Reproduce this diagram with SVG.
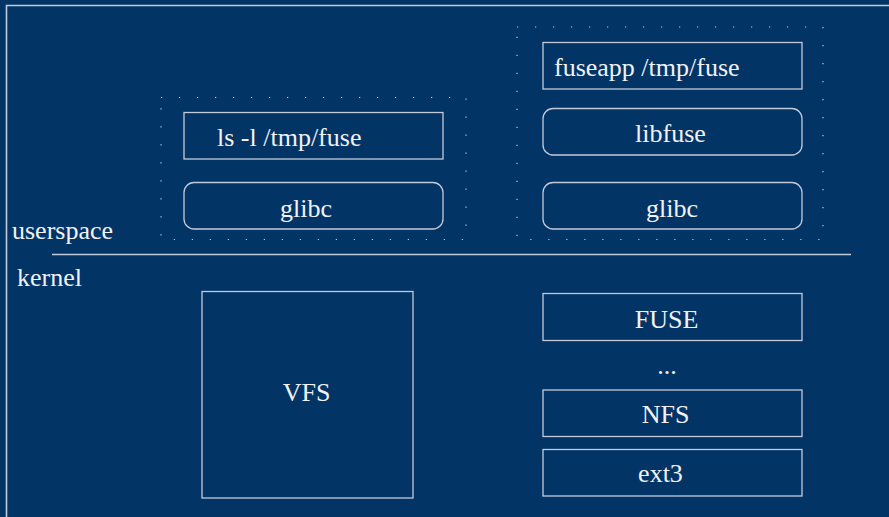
<svg xmlns="http://www.w3.org/2000/svg" width="889" height="517" viewBox="0 0 889 517">
<style>
.box{fill:none;stroke:#c3cbdb;stroke-width:1.3}
.dots{fill:none;stroke:#c3cbdb;stroke-width:1.2;stroke-dasharray:1.2 16.8}
.t{font-family:"Liberation Serif","Times New Roman",serif;font-size:26px;fill:#f2f2f2}
.c{text-anchor:middle}
</style>
<rect x="0" y="0" width="889" height="517" fill="#023466"/>
<path d="M6.5 517 V5.5 H889" fill="none" stroke="#c3cbdb" stroke-width="1.6"/>
<line x1="52" y1="254.5" x2="851" y2="254.5" stroke="#c3cbdb" stroke-width="1.4"/>
<g id="userspace-label"><text class="t" x="12" y="239">userspace</text></g>
<g id="kernel-label"><text class="t" x="17" y="286">kernel</text></g>
<g id="ls-process"><rect class="dots" x="161" y="97.5" width="305" height="142"/></g>
<g id="fuse-process"><rect class="dots" x="517" y="27" width="306" height="212.5"/></g>
<g id="ls"><rect class="box" x="184" y="112.5" width="259" height="46.5"/><text class="t" x="217" y="146">ls -l /tmp/fuse</text></g>
<g id="glibc-left"><rect class="box" x="184" y="182.5" width="259" height="46.5" rx="10"/><text class="t c" x="306" y="217">glibc</text></g>
<g id="fuseapp"><rect class="box" x="543" y="42.5" width="259" height="46.5"/><text class="t" x="554" y="76">fuseapp /tmp/fuse</text></g>
<g id="libfuse"><rect class="box" x="543" y="108.5" width="259" height="46.5" rx="10"/><text class="t c" x="670.5" y="142">libfuse</text></g>
<g id="glibc-right"><rect class="box" x="543" y="182.5" width="259" height="46.5" rx="10"/><text class="t c" x="672" y="217">glibc</text></g>
<g id="vfs"><rect class="box" x="202" y="291.5" width="211" height="206.5"/><text class="t c" x="306.5" y="401">VFS</text></g>
<g id="fuse"><rect class="box" x="543" y="293.5" width="259" height="47"/><text class="t c" x="666.5" y="328">FUSE</text></g>
<g id="ellipsis"><text class="t c" x="667" y="374">...</text></g>
<g id="nfs"><rect class="box" x="543" y="390" width="259" height="46.5"/><text class="t c" x="665.5" y="423">NFS</text></g>
<g id="ext3"><rect class="box" x="543" y="449.5" width="259" height="46.5"/><text class="t c" x="660.5" y="482">ext3</text></g>
<g id="connectors"></g>
</svg>
